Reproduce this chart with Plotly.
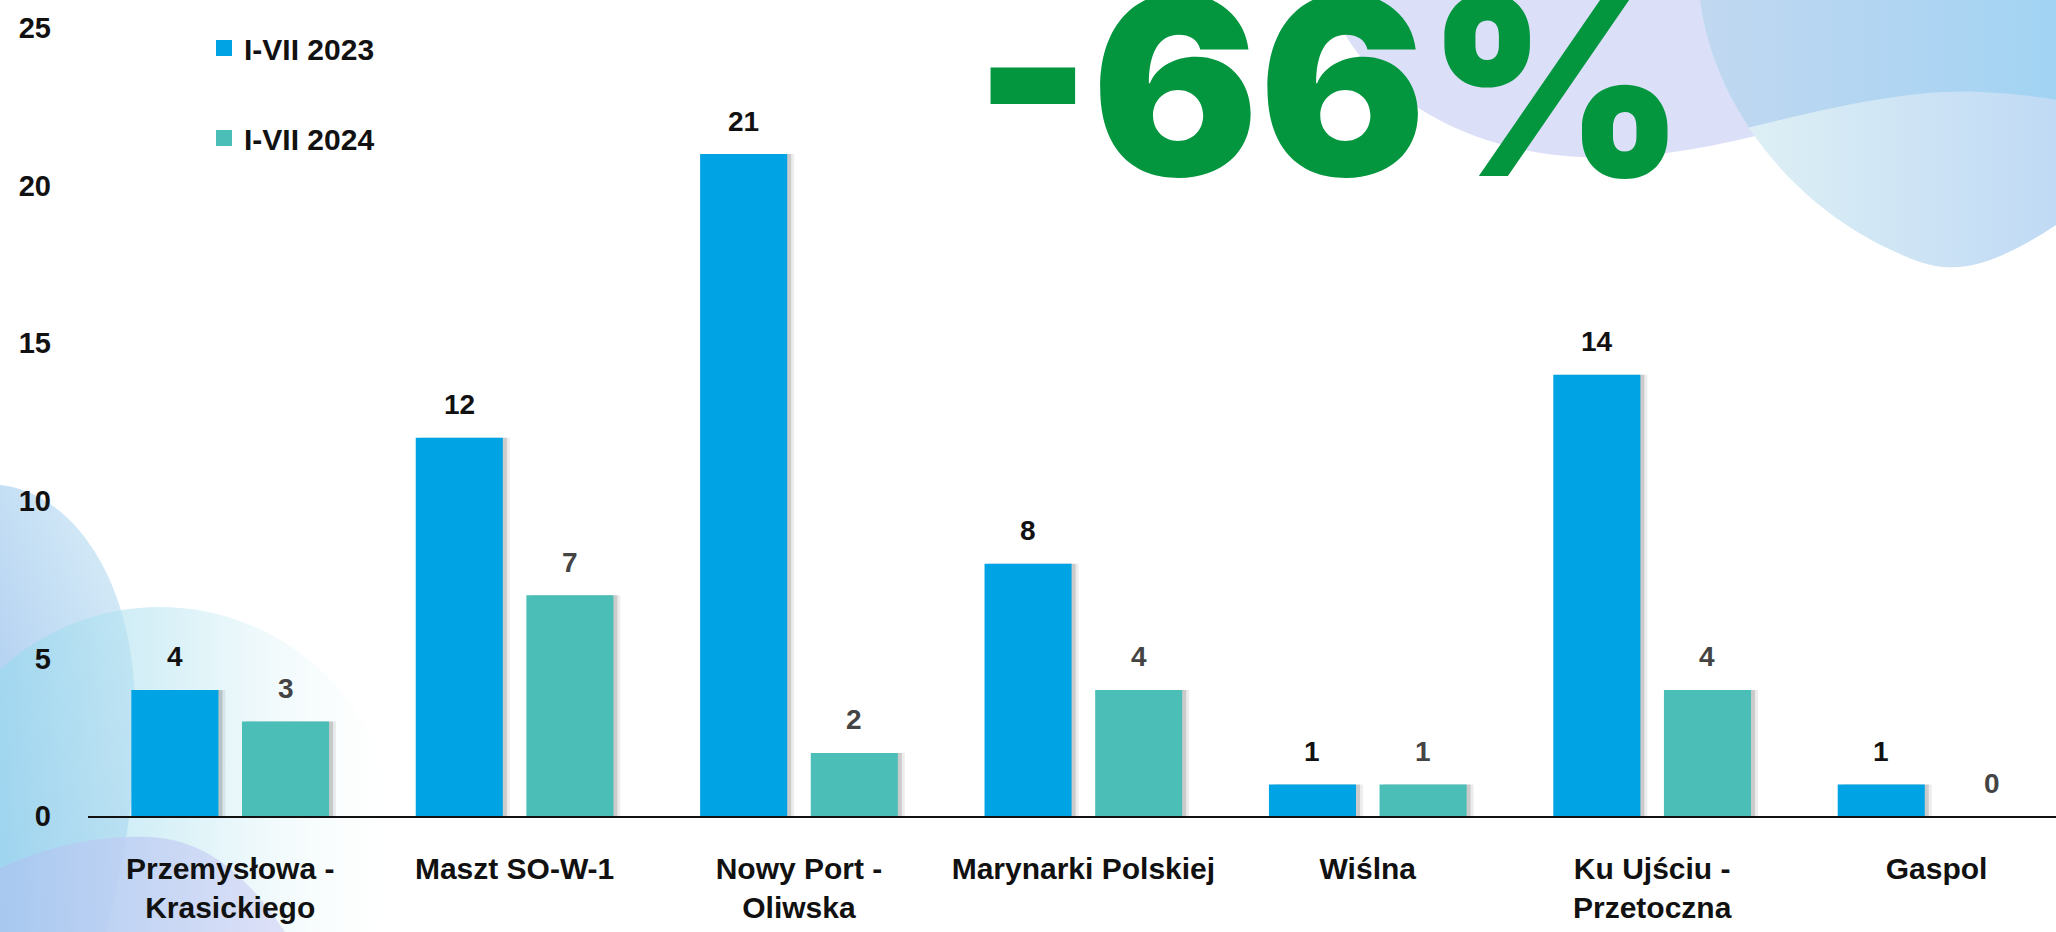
import base64
import plotly.graph_objects as go

# data
categories = ["Przemysłowa -<br>Krasickiego", "Maszt SO-W-1", "Nowy Port -<br>Oliwska",
              "Marynarki Polskiej", "Wiślna", "Ku Ujściu -<br>Przetoczna", "Gaspol"]
values_2023 = [4, 12, 21, 8, 1, 14, 1]
values_2024 = [3, 7, 2, 4, 1, 4, 0]
series_names = ["I-VII 2023", "I-VII 2024"]
y_ticks = [0, 5, 10, 15, 20, 25]
headline = "-66%"

BLUE = "#00a3e3"
TEAL = "#4bbfb7"
GREEN = "#03963f"
FONT = "Liberation Sans, Arial, sans-serif"

# geometry
W, H = 2056, 932
ML, MB = 88, 116
PLOT_W, PLOT_H = W - ML, H - MB
X_RANGE = [-0.5, 6.42]
Y_RANGE = [0, 25.89]
BARGAP, BARGROUPGAP = 0.222, 0.213
cat_px = PLOT_W / (X_RANGE[1] - X_RANGE[0])
slot = (1 - BARGAP) / 2            # in category units
bar_w = slot * (1 - BARGROUPGAP)
bar_shift = cat_px * slot / 2      # px from category centre to bar centre
px = 1 / cat_px                    # one pixel in category units


def background_svg():
    svg = """<svg xmlns="http://www.w3.org/2000/svg" width="2056" height="932" viewBox="0 0 2056 932">
<defs>
<linearGradient id="c1" x1="0.7" y1="0" x2="0" y2="1">
<stop offset="0" stop-color="#d6ecf7"/><stop offset="1" stop-color="#a0c2ee"/></linearGradient>
<linearGradient id="c2" x1="0" y1="0" x2="1" y2="0">
<stop offset="0" stop-color="#8fd2ee" stop-opacity="0.9"/>
<stop offset="0.55" stop-color="#c0e8f2" stop-opacity="0.55"/>
<stop offset="1" stop-color="#eef9f8" stop-opacity="0"/></linearGradient>
<linearGradient id="c3" x1="0" y1="0" x2="1" y2="0">
<stop offset="0" stop-color="#a9c6f0"/><stop offset="1" stop-color="#dadcf7"/></linearGradient>
<linearGradient id="bl" x1="0" y1="0" x2="1" y2="0">
<stop offset="0" stop-color="#e2f3f5"/><stop offset="1" stop-color="#c0daf5"/></linearGradient>
<linearGradient id="bu" x1="0" y1="0" x2="1" y2="0">
<stop offset="0" stop-color="#cad9f0"/><stop offset="1" stop-color="#a2d3f3"/></linearGradient>
<clipPath id="blob"><path d="M1700,0 C1712,100 1790,215 1920,262 C1960,276 2000,262 2056,225 L2056,0 Z"/></clipPath>
</defs>
<path d="M1330,0 C1350,70 1440,150 1580,157 C1700,162 1800,120 1900,100 L2056,80 L2056,0 Z" fill="#dcdff8"/>
<path d="M1700,0 C1712,100 1790,215 1920,262 C1960,276 2000,262 2056,225 L2056,0 Z" fill="url(#bl)"/>
<path d="M1600,0 L1600,150 L1700,140 C1800,115 1900,88 1980,92 C2020,94 2040,97 2056,100 L2056,0 Z" fill="url(#bu)" clip-path="url(#blob)"/>
<path d="M0,485 C60,490 130,560 135,700 C138,800 120,880 105,932 L0,932 Z" fill="url(#c1)"/>
<circle cx="160" cy="843" r="236" fill="url(#c2)"/>
<path d="M0,868 C50,845 100,835 150,837 C210,840 250,880 285,932 L0,932 Z" fill="url(#c3)" fill-opacity="0.85"/>
</svg>"""
    return "data:image/svg+xml;base64," + base64.b64encode(svg.encode()).decode()


fig = go.Figure()

# soft drop shadows to the right of the bars
for values, left in [(values_2023, -slot / 2 - bar_w / 2), (values_2024, slot / 2 - bar_w / 2)]:
    for shift, alpha in [(7, 0.07), (4, 0.14)]:
        fig.add_trace(go.Bar(x=categories, y=values, offset=left + shift * px, width=bar_w,
                             marker=dict(color=f"rgba(0,0,0,{alpha})", line=dict(width=0)),
                             showlegend=False, hoverinfo="skip"))

fig.add_trace(go.Bar(x=categories, y=values_2023, name=series_names[0],
                     offset=-slot / 2 - bar_w / 2, width=bar_w,
                     marker=dict(color=BLUE, line=dict(width=0)), showlegend=False))
fig.add_trace(go.Bar(x=categories, y=values_2024, name=series_names[1],
                     offset=slot / 2 - bar_w / 2, width=bar_w,
                     marker=dict(color=TEAL, line=dict(width=0)), showlegend=False))

# legend entries with bigger square swatches
for name, color in zip(series_names, [BLUE, TEAL]):
    fig.add_trace(go.Scatter(x=[None], y=[None], mode="markers", name=name,
                             legendgroup=name,
                             marker=dict(symbol="square", size=17, color=color, line=dict(width=0))))

# value labels above the bars
annotations = []
for cat, v1, v2 in zip(categories, values_2023, values_2024):
    annotations.append(dict(x=cat, y=v1, text=str(v1), xshift=-bar_shift, yshift=33,
                            showarrow=False, font=dict(family=FONT, size=28, color="#111111", weight=700)))
    annotations.append(dict(x=cat, y=v2, text=str(v2), xshift=bar_shift, yshift=33,
                            showarrow=False, font=dict(family=FONT, size=28, color="#444444", weight=700)))

annotations.append(dict(xref="paper", yref="paper", x=(1329 - ML) / PLOT_W, y=1 - 86 / PLOT_H,
                        text=headline, showarrow=False, xanchor="center", yanchor="middle",
                        font=dict(family="Inter, Liberation Sans, sans-serif", size=248,
                                  color=GREEN, weight=900)))

fig.update_layout(
    width=W, height=H,
    margin=dict(l=ML, r=0, t=0, b=MB, pad=0),
    paper_bgcolor="white",
    plot_bgcolor="rgba(0,0,0,0)",
    barmode="overlay",
    font=dict(family=FONT, color="#111111"),
    showlegend=True,
    legend=dict(x=(204 - ML) / PLOT_W, y=1 - 22 / PLOT_H, xanchor="left", yanchor="top",
                font=dict(family=FONT, size=30, color="#111111", weight=700),
                bgcolor="rgba(0,0,0,0)", tracegroupgap=48, itemclick=False),
    annotations=annotations,
    images=[dict(source=background_svg(), xref="paper", yref="paper",
                 x=-ML / PLOT_W, y=1, sizex=W / PLOT_W, sizey=H / PLOT_H,
                 xanchor="left", yanchor="top", sizing="stretch", layer="below")],
)

fig.update_xaxes(range=X_RANGE, showline=True, linecolor="#111111", linewidth=2,
                 showgrid=False, zeroline=False, ticks="", ticklabelstandoff=25,
                 tickfont=dict(family=FONT, size=30, color="#111111", weight=700))
fig.update_yaxes(range=Y_RANGE, tickvals=y_ticks, showline=False, showgrid=False,
                 zeroline=False, ticks="", ticklabelstandoff=36,
                 tickfont=dict(family=FONT, size=29, color="#111111", weight=700))

fig.write_html("out.html", config={"displayModeBar": False},
               post_script="document.body.style.margin='0';")
